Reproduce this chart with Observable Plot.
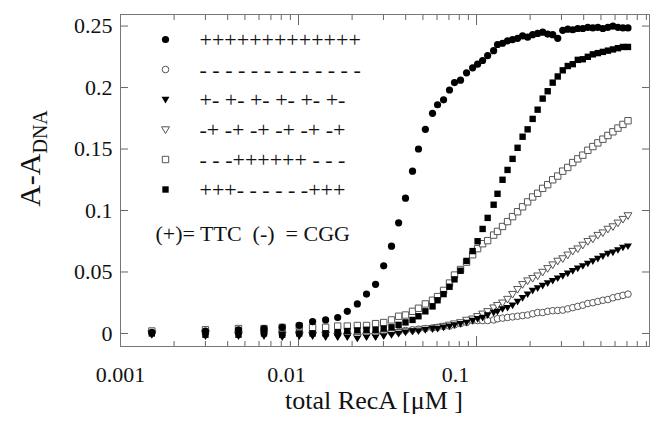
<!DOCTYPE html>
<html><head><meta charset="utf-8">
<script src="https://cdn.jsdelivr.net/npm/d3@7"></script>
<script src="https://cdn.jsdelivr.net/npm/@observablehq/plot@0.6"></script>
<style>
body{margin:0;background:#fff;}
#chart{width:651px;height:422px;}
svg text{font-family:"Liberation Serif","Times New Roman",serif;}
</style></head><body><div id="chart"></div>
<script>
// total RecA concentration (µM)
const recA = [0.0015,0.0030,0.0046,0.0064,0.0081,0.0101,0.0120,0.0142,0.0166,0.0188,
0.0214,0.0241,0.0271,0.0301,0.0333,0.0365,0.0399,0.0437,0.0472,0.0516,
0.0566,0.0604,0.0653,0.0705,0.0752,0.0813,0.0879,0.0951,0.1014,0.1082,
0.1155,0.1248,0.1312,0.1400,0.1494,0.1594,0.1701,0.1815,0.1937,0.2067,
0.2205,0.2353,0.2511,0.2679,0.2859,0.3051,0.3255,0.3473,0.3706,0.3955,
0.4220,0.4503,0.4805,0.5127,0.5471,0.5838,0.6229,0.6647,0.7093];

const sPlusAll = [0.001,0.002,0.003,0.004,0.005,0.0065,0.0097,0.011,0.013,0.018,
0.024,0.032,0.040,0.055,0.071,0.090,0.110,0.132,0.150,0.166,
0.179,0.186,0.190,0.198,0.204,0.206,0.212,0.216,0.219,0.222,
0.226,0.230,0.235,0.236,0.238,0.239,0.240,0.242,0.241,0.243,
0.244,0.245,0.2435,0.243,0.240,0.2465,0.2475,0.247,0.248,0.248,
0.249,0.2485,0.249,0.248,0.249,0.250,0.249,0.2485,0.2485];

const sMinusAll = [0.001,0.002,0.002,0.002,0.002,0.002,0.001,0.001,0.001,0.000,
0.000,0.000,0.000,0.001,0.001,0.0015,0.0024,0.003,0.0035,0.004,
0.0045,0.005,0.0057,0.006,0.007,0.008,0.009,0.0105,0.0105,0.0105,
0.0105,0.011,0.012,0.0125,0.013,0.0135,0.014,0.0145,0.015,0.016,
0.017,0.017,0.018,0.0185,0.0187,0.019,0.020,0.021,0.022,0.023,
0.0244,0.025,0.026,0.027,0.0276,0.029,0.030,0.031,0.032];

const sPlusMinus = [-0.001,-0.002,-0.002,-0.002,-0.003,-0.002,-0.002,-0.003,-0.003,-0.003,
-0.004,-0.003,-0.003,-0.002,-0.001,0.000,0.001,0.002,0.002,0.003,
0.004,0.004,0.005,0.006,0.007,0.008,0.009,0.0105,0.012,0.013,
0.015,0.017,0.018,0.020,0.021,0.023,0.026,0.029,0.032,0.035,
0.037,0.039,0.041,0.043,0.045,0.047,0.049,0.051,0.053,0.055,
0.057,0.059,0.061,0.063,0.065,0.066,0.068,0.070,0.071];

const sMinusPlus = [0.000,0.000,-0.001,0.000,-0.001,-0.001,-0.001,-0.001,-0.002,-0.002,
-0.003,-0.002,-0.002,-0.001,0.000,0.001,0.002,0.002,0.003,0.004,
0.004,0.005,0.006,0.007,0.008,0.009,0.011,0.012,0.014,0.016,
0.018,0.021,0.023,0.025,0.028,0.032,0.036,0.040,0.043,0.045,
0.047,0.050,0.053,0.056,0.059,0.061,0.064,0.067,0.069,0.072,
0.075,0.077,0.080,0.082,0.085,0.087,0.090,0.093,0.096];

const sMidPlus = [0.002,0.003,0.004,0.004,0.005,0.006,0.005,0.005,0.006,0.006,
0.0065,0.0065,0.008,0.0089,0.011,0.014,0.015,0.018,0.0205,0.024,
0.027,0.030,0.035,0.041,0.0475,0.052,0.058,0.064,0.069,0.073,
0.0755,0.080,0.083,0.087,0.091,0.095,0.099,0.103,0.107,0.111,
0.114,0.118,0.121,0.125,0.128,0.132,0.135,0.139,0.142,0.145,
0.149,0.152,0.155,0.158,0.161,0.164,0.167,0.170,0.173];

const sEndPlus = [0.000,-0.001,-0.001,0.000,-0.001,0.000,0.000,0.000,0.001,0.002,
0.0025,0.003,0.003,0.004,0.005,0.007,0.009,0.011,0.014,0.018,
0.022,0.027,0.032,0.038,0.044,0.051,0.059,0.067,0.075,0.085,
0.094,0.1047,0.1136,0.125,0.133,0.142,0.151,0.160,0.166,0.1745,
0.182,0.191,0.197,0.204,0.209,0.214,0.2175,0.219,0.2225,0.223,
0.225,0.227,0.228,0.229,0.230,0.231,0.232,0.233,0.233];

const seriesNames = ["+++++++++++++", "- - - - - - - - - - - - -", "+- +- +- +- +- +-",
  "-+ -+ -+ -+ -+ -+", "- - -++++++ - - -", "+++- - - - - -+++"];
const seriesValues = [sPlusAll, sMinusAll, sPlusMinus, sMinusPlus, sMidPlus, sEndPlus];
const keyText = "(+)= TTC\u00a0\u00a0(-)\u00a0\u00a0= CGG";

const xMajor = [0.001, 0.01, 0.1];
const xMinor = [0.002,0.003,0.004,0.005,0.006,0.007,0.008,0.009,
                0.02,0.03,0.04,0.05,0.06,0.07,0.08,0.09,
                0.2,0.3,0.4,0.5,0.6,0.7,0.8,0.9];
const yTicks = [0, 0.05, 0.1, 0.15, 0.2, 0.25];
const xTitle = "total RecA [\u03bcM ]";
const yTitle = "A-A";
const ySub = "DNA";

const FONT = "Liberation Serif";
// downward triangle symbol
const triDown = {draw(ctx, size) {
  const r = Math.sqrt(size / Math.PI);
  ctx.moveTo(-1.1 * r, -0.75 * r); ctx.lineTo(1.1 * r, -0.75 * r); ctx.lineTo(0, 1.1 * r); ctx.closePath();
}};
const styles = [
  {symbol: "circle", fill: "#000", stroke: "none", r: 3.6},
  {symbol: "circle", fill: "#fff", stroke: "#555", r: 3.3},
  {symbol: triDown, fill: "#000", stroke: "none", r: 3.6},
  {symbol: triDown, fill: "#fff", stroke: "#555", r: 3.6},
  {symbol: "square", fill: "#fff", stroke: "#555", r: 3.6},
  {symbol: "square", fill: "#000", stroke: "none", r: 3.6}
];
const drawOrder = [1, 3, 2, 4, 5, 0];
// the printed tick labels sit a little left of their ticks
const xLabelShift = [0, -12, -21];

const marks = [];
const empty = () => "";
// inward ticks
marks.push(Plot.axisX(xMajor, {anchor: "bottom", tickSize: -10, tickFormat: empty, label: null, stroke: "#666"}));
marks.push(Plot.axisX(xMajor, {anchor: "top", tickSize: -10, tickFormat: empty, label: null, stroke: "#666"}));
marks.push(Plot.axisX(xMinor, {anchor: "bottom", tickSize: -5, tickFormat: empty, label: null, stroke: "#666"}));
marks.push(Plot.axisX(xMinor, {anchor: "top", tickSize: -5, tickFormat: empty, label: null, stroke: "#666"}));
marks.push(Plot.axisY(yTicks, {anchor: "left", tickSize: -8, tickFormat: empty, label: null, stroke: "#666"}));
marks.push(Plot.axisY(yTicks, {anchor: "right", tickSize: -8, tickFormat: empty, label: null, stroke: "#666"}));
// tick labels
xMajor.forEach((t, i) => {
  marks.push(Plot.axisX([t], {anchor: "bottom", tickSize: 0, tickPadding: 20, dx: xLabelShift[i], fontSize: 22,
    fontFamily: FONT, fill: "#111", tickFormat: d3.format("~g"), label: null}));
});
marks.push(Plot.axisY(yTicks, {anchor: "left", tickSize: 0, tickPadding: 8, fontSize: 22, fontFamily: FONT, fill: "#111",
  tickFormat: d3.format("~g"), label: null}));
marks.push(Plot.frame({stroke: "#777"}));
// axis titles
marks.push(Plot.text([xTitle], {text: d => d, frameAnchor: "bottom", textAnchor: "middle", lineAnchor: "middle",
  dy: 54, dx: -11, fontSize: 26, fontFamily: FONT, fill: "#111"}));
marks.push(Plot.text([yTitle], {text: d => d, frameAnchor: "left", textAnchor: "middle", lineAnchor: "middle",
  rotate: -90, dx: -90, dy: -22, fontSize: 30, fontFamily: FONT, fill: "#111"}));
// data
for (const k of drawOrder) {
  const rows = recA.map((x, i) => ({x, y: seriesValues[k][i]}));
  const s = styles[k];
  marks.push(Plot.dot(rows, {x: "x", y: "y", symbol: s.symbol, r: s.r, fill: s.fill, stroke: s.stroke, strokeWidth: 1}));
}
// in-plot legend
seriesNames.forEach((name, k) => {
  const s = styles[k];
  marks.push(Plot.dot([name], {frameAnchor: "top-left", dx: 45, dy: 25 + 30 * k, symbol: s.symbol, r: s.r, fill: s.fill, stroke: s.stroke, strokeWidth: 1}));
  marks.push(Plot.text([name], {text: d => d, frameAnchor: "top-left", dx: 79, dy: 25 + 30 * k, textAnchor: "start",
    lineAnchor: "middle", fontSize: 22, fontFamily: FONT, fill: "#111"}));
});
marks.push(Plot.text([keyText], {text: d => d, frameAnchor: "top-left", dx: 35, dy: 219, textAnchor: "start",
  lineAnchor: "middle", fontSize: 22, fontFamily: FONT, fill: "#111"}));

const chart = Plot.plot({
  width: 651, height: 422,
  marginLeft: 120, marginRight: 2, marginTop: 14, marginBottom: 76,
  x: {type: "log", domain: [0.001, 0.937]},
  y: {domain: [-0.0106, 0.2594]},
  style: {fontFamily: "Liberation Serif, serif", background: "#fff", color: "#111"},
  marks
});
// subscript for the y title
chart.querySelectorAll("text").forEach(t => {
  if (t.textContent === yTitle) {
    const ts = document.createElementNS("http://www.w3.org/2000/svg", "tspan");
    ts.setAttribute("dy", "0.35em");
    ts.setAttribute("font-size", "20");
    ts.textContent = ySub;
    t.appendChild(ts);
  }
});
document.getElementById("chart").appendChild(chart);
</script></body></html>
